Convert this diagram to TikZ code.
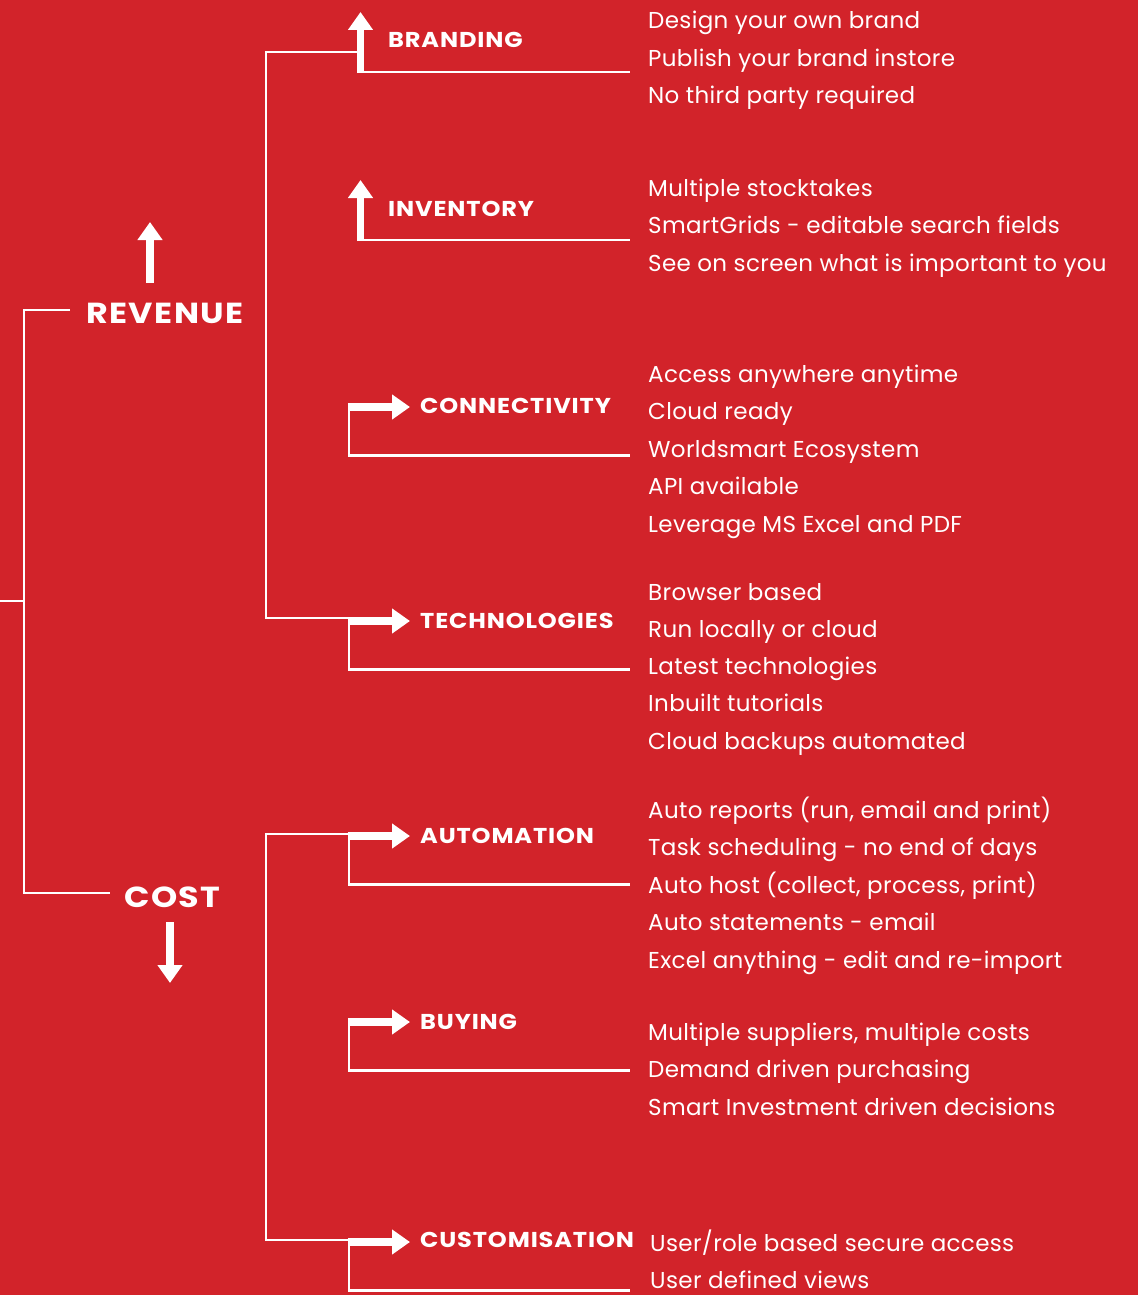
\documentclass[tikz,border=0pt]{standalone}
\usepackage{fontspec}
\setmainfont{Poppins}
\newfontfamily\headfont[FakeStretch=1.12,LetterSpace=4]{Poppins}
\newfontfamily\bigfont[FakeStretch=1.15,LetterSpace=5]{Poppins}
\newfontfamily\pointfont[LetterSpace=1.5]{Poppins}
\usetikzlibrary{arrows.meta,positioning}
\definecolor{bgred}{RGB}{210,35,42}
\begin{document}
\begin{tikzpicture}[x=1pt,y=-1pt,>={Triangle[width=24pt,length=18pt]},
	conn/.style={white,line width=2.4pt},
	fat arrow/.style={white,line width=7.5pt,->},
	heading/.style={white,font=\headfont\bfseries\fontsize{21.5}{21.5}\selectfont,anchor=base west,inner sep=0pt},
	big heading/.style={white,font=\bigfont\bfseries\fontsize{29}{29}\selectfont,anchor=base west,inner sep=0pt},
	point/.style={white,font=\pointfont\fontsize{23}{23}\selectfont,anchor=base west,inner sep=0pt}]
	\useasboundingbox (0,0) rectangle (1138,1295);
	\fill[bgred] (0,0) rectangle (1138,1295);
	% main split
	\node[big heading] (rev) at (86,323) {REVENUE};
	\node[big heading] (cost) at (124,907) {COST};
	\coordinate (stub) at (0,601);
	\coordinate (main-top) at (24,310);
	\coordinate (main-bot) at (24,893);
	\draw[conn] (rev.west |- main-top) ++(-16,0) -- (main-top) -- (main-bot) -- ++(86,0);
	\draw[conn] (stub) -- (stub -| main-top);
	\draw[fat arrow] (150,283) -- (150,222);
	\draw[fat arrow] (170,922) -- (170,983);
	% headings
	\node[heading] (brand) at (388,48) {BRANDING};
	\node[heading] (inv) at (388,216) {INVENTORY};
	\node[heading] (conx) at (420,413) {CONNECTIVITY};
	\node[heading] (tech) at (420,628) {TECHNOLOGIES};
	\node[heading] (auto) at (420,843) {AUTOMATION};
	\node[heading] (buy) at (420,1029) {BUYING};
	\node[heading] (cust) at (420,1247) {CUSTOMISATION};
	% up arrows
	\foreach \n/\y in {brand/12,inv/180}{
		\coordinate (\n-tip) at (360.5,\y);
		\coordinate (\n-foot) at (360.5,\y+60);
		\draw[conn] (\n-foot) -- (630,\y+60);
		\draw[fat arrow] (\n-foot) ++(0,1.2) -- (\n-tip);
	}
	% right arrows
	\foreach \n/\y in {conx/407,tech/621,auto/836,buy/1022,cust/1242}{
		\coordinate (\n-start) at (349,\y);
		\coordinate (\n-tip) at (410,\y);
		\draw[conn] (\n-start) -- (349,\y+48.5) -- (630,\y+48.5);
		\draw[fat arrow] (\n-start) ++(-1.2,0) -- (\n-tip);
	}
	% brackets
	\draw[conn] (brand-foot |- 0,52) -- (266,52) -- (266,618) -- (tech-start |- 0,618);
	\draw[conn] (auto-start |- 0,834) -- (266,834) -- (266,1240) -- (cust-start |- 0,1240);
	% lists
	\foreach \t [count=\i] in {Design your own brand,Publish your brand instore,No third party required}
		\node[point] (brand-\i) at (648,{29+37.5*(\i-1)}) {\t};
	\foreach \t [count=\i] in {Multiple stocktakes,SmartGrids - editable search fields,See on screen what is important to you}
		\node[point] (inv-\i) at (648,{196+37.5*(\i-1)}) {\t};
	\foreach \t [count=\i] in {Access anywhere anytime,Cloud ready,Worldsmart Ecosystem,API available,Leverage MS Excel and PDF}
		\node[point] (conx-\i) at (648,{382+37.5*(\i-1)}) {\t};
	\foreach \t [count=\i] in {Browser based,Run locally or cloud,Latest technologies,Inbuilt tutorials,Cloud backups automated}
		\node[point] (tech-\i) at (648,{600+37.3*(\i-1)}) {\t};
	\foreach \t [count=\i] in {{Auto reports (run, email and print)},Task scheduling - no end of days,{Auto host (collect, process, print)},Auto statements - email,Excel anything - edit and re-import}
		\node[point] (auto-\i) at (648,{818+37.5*(\i-1)}) {\t};
	\foreach \t [count=\i] in {{Multiple suppliers, multiple costs},Demand driven purchasing,Smart Investment driven decisions}
		\node[point] (buy-\i) at (648,{1040+37.5*(\i-1)}) {\t};
	\foreach \t [count=\i] in {User/role based secure access,User defined views}
		\node[point] (cust-\i) at (650,{1251+37.5*(\i-1)}) {\t};
\end{tikzpicture}
\end{document}
